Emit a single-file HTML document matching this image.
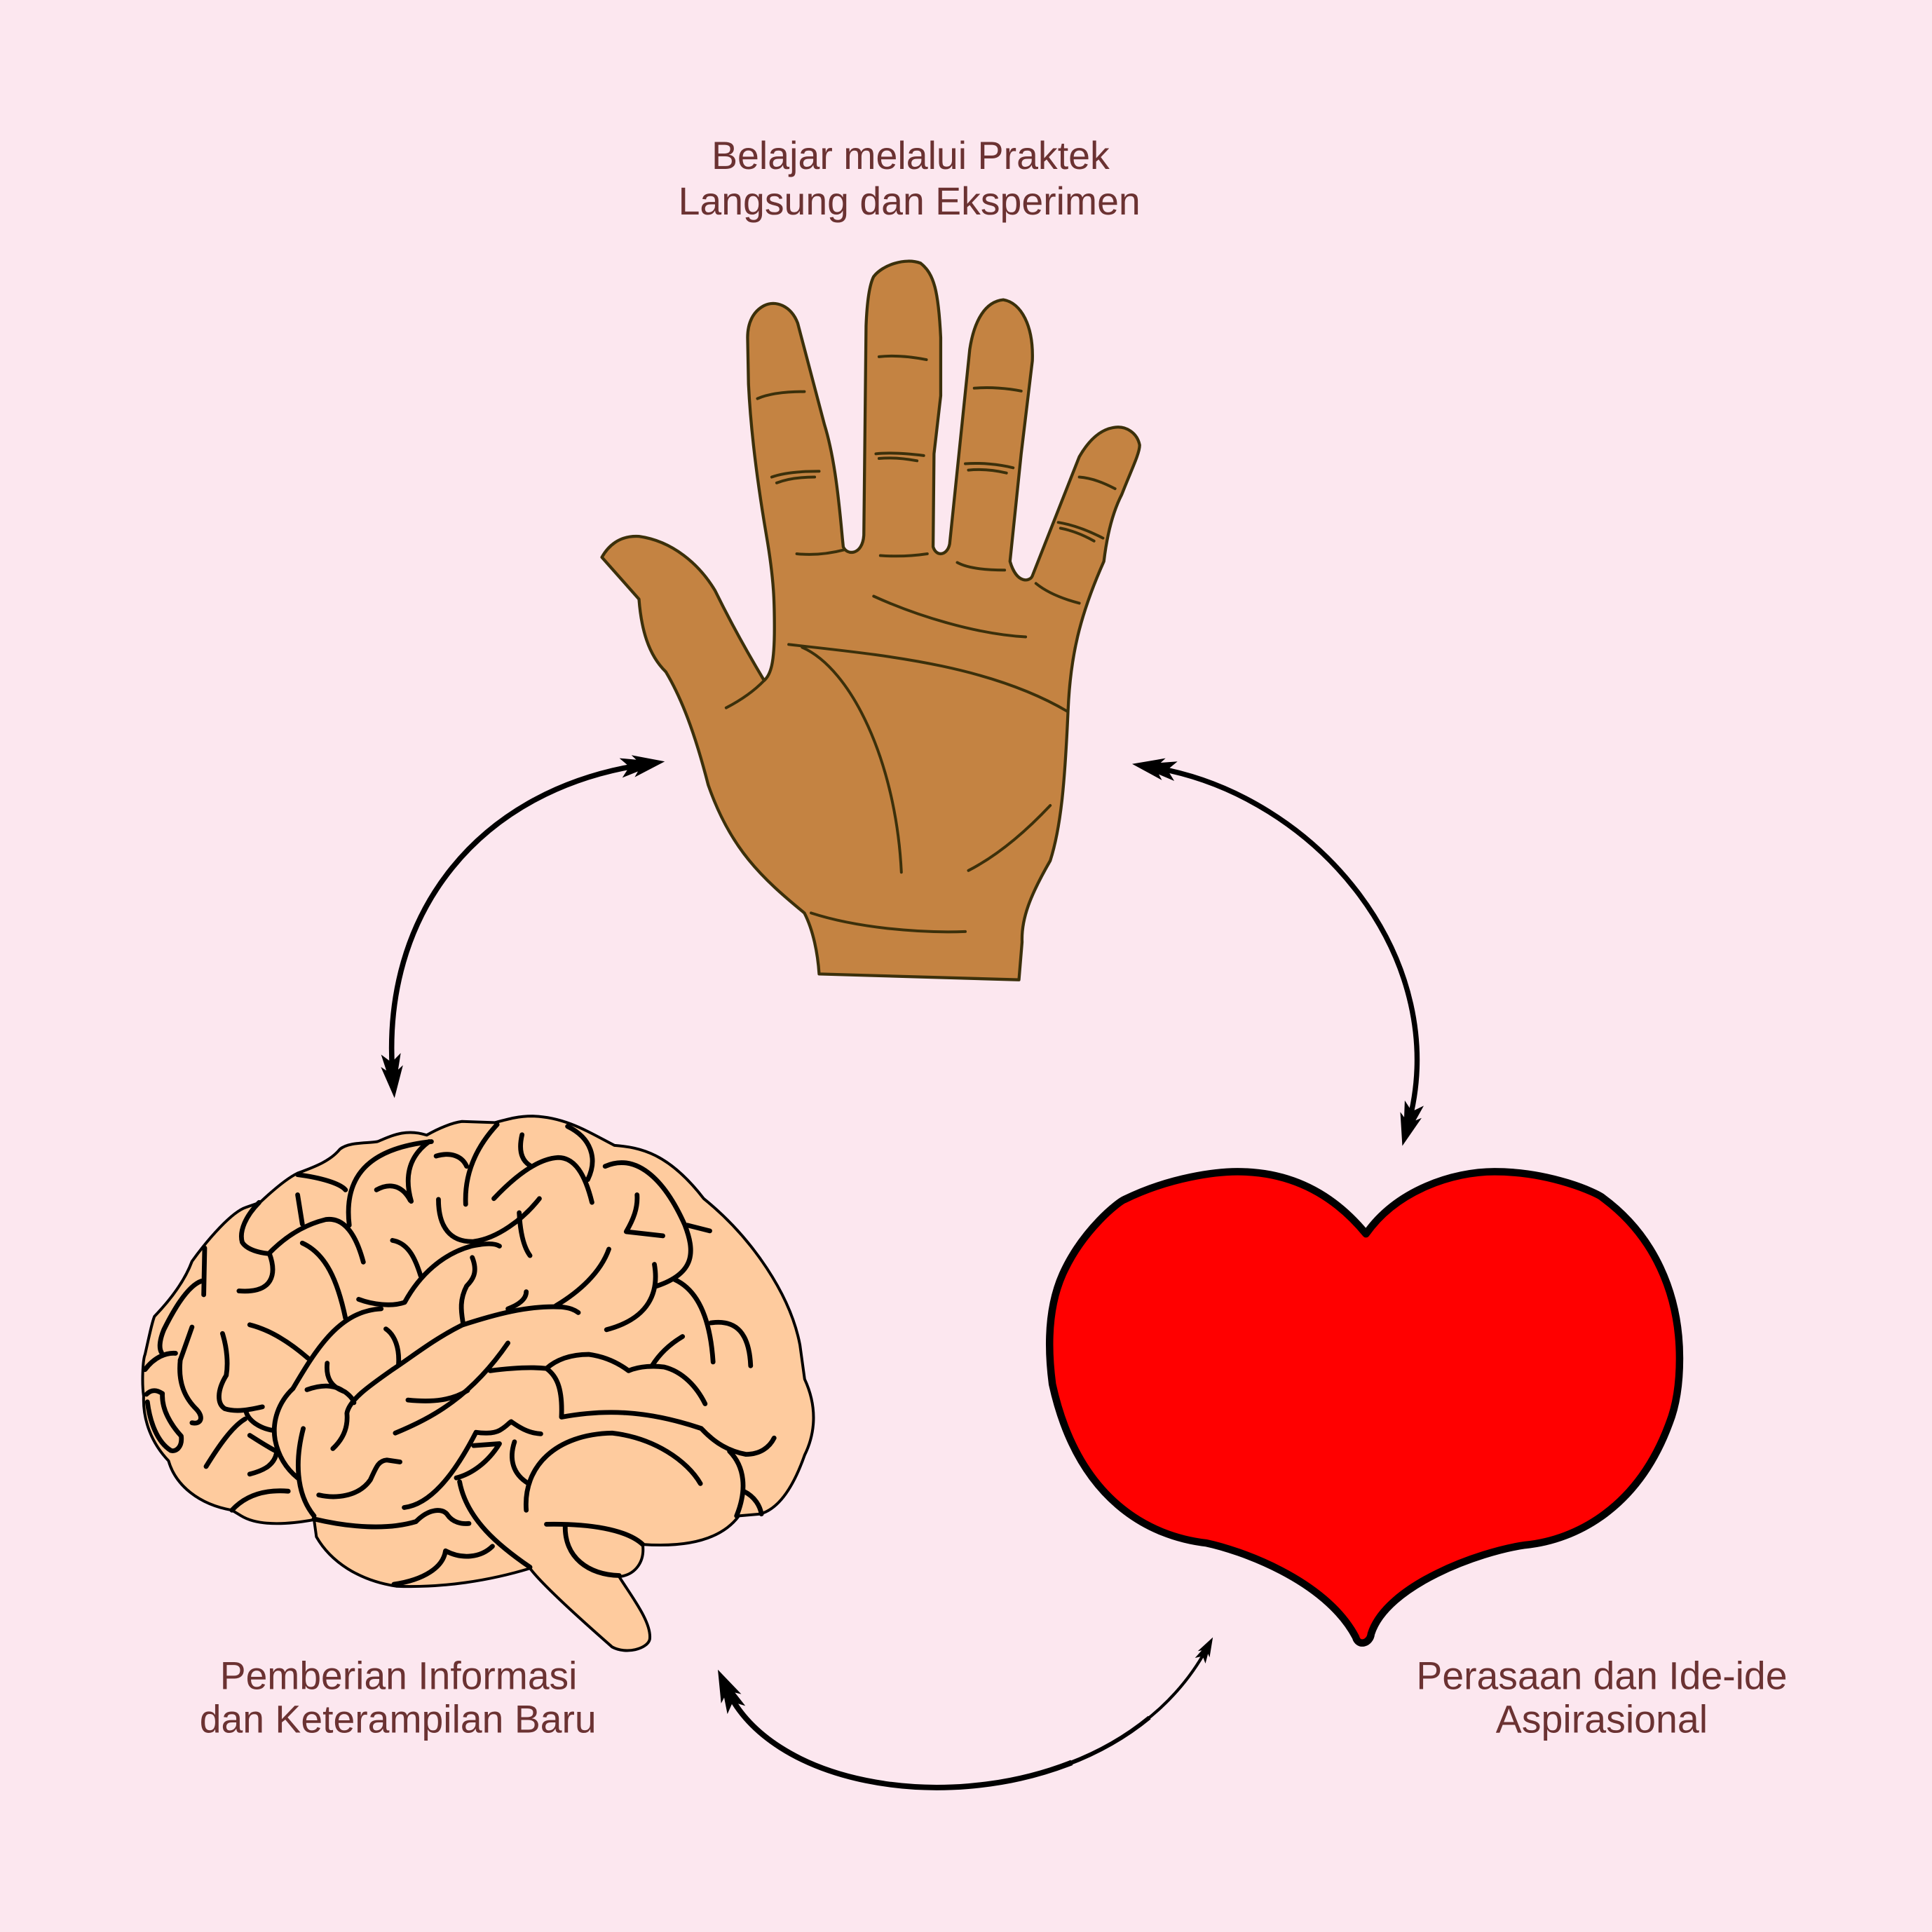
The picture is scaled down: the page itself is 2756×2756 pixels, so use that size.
<!DOCTYPE html>
<html>
<head>
<meta charset="utf-8">
<style>
html,body{margin:0;padding:0;background:#fce7ef;}
svg{display:block;}
text{font-family:"Liberation Sans",Arial,sans-serif;fill:#6b3232;font-size:31.5px;}
.ns{vector-effect:non-scaling-stroke;}
</style>
</head>
<body>
<svg width="2756" height="2756" viewBox="0 0 1568 1568" xmlns="http://www.w3.org/2000/svg">
<defs>
<marker id="ah" viewBox="-40 -12 42 24" refX="-17" refY="0" markerWidth="42" markerHeight="24" markerUnits="userSpaceOnUse" orient="auto-start-reverse">
<path d="M0,0 L-26,-9 L-19,0 L-26,9 Z M-9,-1.5 L-36,-8 L-29,0 L-36,8 L-9,1.5 Z" fill="#000"/>
</marker>
<marker id="ahs" viewBox="-40 -12 42 24" refX="-17" refY="0" markerWidth="25.2" markerHeight="14.4" markerUnits="userSpaceOnUse" orient="auto-start-reverse">
<path d="M0,0 L-26,-9 L-19,0 L-26,9 Z M-9,-1.5 L-36,-8 L-29,0 L-36,8 L-9,1.5 Z" fill="#000"/>
</marker>
</defs>

<rect x="0" y="0" width="1568" height="1568" fill="#fce7ef"/>

<!-- Labels -->
<text x="739" y="137" text-anchor="middle" textLength="323" lengthAdjust="spacingAndGlyphs">Belajar melalui Praktek</text>
<text x="738" y="174" text-anchor="middle" textLength="375" lengthAdjust="spacingAndGlyphs">Langsung dan Eksperimen</text>
<text x="323.5" y="1371" text-anchor="middle" textLength="290" lengthAdjust="spacingAndGlyphs">Pemberian Informasi</text>
<text x="323" y="1406" text-anchor="middle" textLength="322" lengthAdjust="spacingAndGlyphs">dan Keterampilan Baru</text>
<text x="1300" y="1371" text-anchor="middle" textLength="301" lengthAdjust="spacingAndGlyphs">Perasaan dan Ide-ide</text>
<text x="1300" y="1406" text-anchor="middle" textLength="172" lengthAdjust="spacingAndGlyphs">Aspirasional</text>

<!-- Hand -->
<g transform="translate(455.1,85.3) scale(0.3628,0.4717)" stroke="#3b300b" stroke-linecap="round" stroke-linejoin="round">
<path class="ns" stroke-width="4.3" fill="#c48342" d="M92,778 L175,850 C180,900 195,945 235,975 C270,1020 300,1080 330,1170 C380,1280 450,1330 545,1390 C565,1420 575,1460 578,1495 L1025,1505 L1032,1440 C1030,1400 1050,1360 1095,1300 C1120,1240 1128,1160 1135,1040 C1140,950 1160,880 1215,785 C1222,740 1235,700 1255,670 C1275,630 1295,600 1295,585 C1290,565 1265,550 1235,555 C1200,560 1175,585 1160,605 L1055,810 C1050,820 1020,825 1005,785 L1030,600 L1055,440 C1058,380 1030,340 990,335 C950,338 925,370 915,420 L870,755 C865,775 840,778 833,760 L835,600 L850,500 L850,400 C845,320 835,290 805,272 C770,262 720,275 700,295 C690,310 685,340 683,380 L678,740 C675,775 640,775 632,760 L630,745 C620,660 610,600 590,550 L530,375 C515,345 480,335 455,345 C430,355 418,375 418,400 L420,480 C425,560 440,650 460,740 C478,820 478,860 478,900 C478,960 470,980 455,990 C420,945 380,890 345,835 C310,790 250,750 175,742 C130,740 105,760 92,778 Z"/>
<g fill="none" stroke-width="4">
<path class="ns" d="M440,505 C470,495 510,493 545,493"/>
<path class="ns" d="M472,640 C500,632 540,630 578,630"/>
<path class="ns" d="M483,650 C510,642 540,640 568,640"/>
<path class="ns" d="M528,772 C565,775 600,772 635,765"/>
<path class="ns" d="M712,433 C745,430 785,433 818,438"/>
<path class="ns" d="M705,600 C740,597 780,600 812,603"/>
<path class="ns" d="M712,608 C740,606 770,608 797,612"/>
<path class="ns" d="M715,775 C750,777 785,776 820,772"/>
<path class="ns" d="M925,487 C960,485 1000,487 1030,492"/>
<path class="ns" d="M905,617 C940,615 980,618 1012,624"/>
<path class="ns" d="M912,628 C940,626 970,628 997,633"/>
<path class="ns" d="M887,787 C910,797 950,800 993,800"/>
<path class="ns" d="M1160,640 C1190,642 1215,650 1240,660"/>
<path class="ns" d="M1113,718 C1145,722 1180,732 1213,745"/>
<path class="ns" d="M1118,728 C1145,732 1170,740 1193,750"/>
<path class="ns" d="M1063,823 C1090,840 1125,850 1160,857"/>
<path class="ns" d="M700,845 C800,880 930,910 1040,915"/>
<path class="ns" d="M510,928 C700,945 950,960 1133,1043"/>
<path class="ns" d="M540,933 C650,970 750,1130 762,1320"/>
<path class="ns" d="M370,1037 C400,1025 430,1010 455,990"/>
<path class="ns" d="M1095,1205 C1040,1250 980,1290 912,1317"/>
<path class="ns" d="M560,1390 C660,1415 800,1425 905,1422"/>
</g>
</g>

<!-- Brain -->
<g transform="translate(85.34,881.8) scale(0.381,0.3084)" stroke="#000" stroke-linecap="round" stroke-linejoin="round">
<path class="ns" stroke-width="4" fill="#fecb9e" d="M85,705 C95,650 100,620 105,605 C140,560 170,510 185,460 C220,400 270,330 300,318 L330,305 C360,270 390,240 410,228 C450,210 480,195 500,165 C520,145 560,150 580,145 C610,130 640,110 685,128 C710,110 740,95 760,92 L830,95 C860,85 880,78 910,78 C980,80 1030,120 1085,155 C1140,160 1200,175 1275,295 C1380,400 1460,550 1480,680 L1490,770 C1520,850 1510,920 1490,970 C1470,1040 1440,1110 1395,1125 L1350,1130 C1320,1180 1260,1215 1145,1205 C1150,1250 1130,1285 1095,1290 C1120,1340 1165,1410 1160,1455 C1155,1480 1110,1495 1080,1475 C1020,1410 930,1310 905,1268 C820,1300 720,1320 620,1315 C540,1300 480,1250 450,1185 L445,1140 C400,1150 330,1160 290,1130 L270,1115 C200,1100 150,1050 135,985 C100,940 80,880 82,815 C78,780 80,720 85,705 Z"/>
<g fill="none" stroke-width="6.8">
<path class="ns" d="M410,232 C460,240 500,255 512,272"/>
<path class="ns" d="M520,365 C510,260 540,165 695,145"/>
<path class="ns" d="M690,145 C640,190 640,250 652,302"/>
<path class="ns" d="M578,272 C610,250 635,265 650,300"/>
<path class="ns" d="M705,183 C735,172 760,182 770,210"/>
<path class="ns" d="M835,100 C790,160 765,230 768,310"/>
<path class="ns" d="M888,127 C880,170 888,195 905,208"/>
<path class="ns" d="M828,295 C870,240 920,190 965,187 C1000,187 1022,230 1037,305"/>
<path class="ns" d="M985,105 C1035,135 1050,190 1028,245"/>
<path class="ns" d="M1065,210 C1130,175 1190,240 1235,365 C1255,430 1260,490 1175,525"/>
<path class="ns" d="M1240,365 L1288,380"/>
<path class="ns" d="M1133,285 C1135,320 1125,350 1110,382 L1188,393"/>
<path class="ns" d="M710,297 C710,370 735,410 785,408 C835,400 890,350 925,295"/>
<path class="ns" d="M882,332 C884,380 890,420 905,445"/>
<path class="ns" d="M1073,428 C1055,490 1010,540 960,577"/>
<path class="ns" d="M1170,468 C1180,540 1160,610 1068,640"/>
<path class="ns" d="M1213,508 C1270,540 1290,630 1295,725"/>
<path class="ns" d="M1290,622 C1345,612 1372,650 1375,735"/>
<path class="ns" d="M1230,658 C1200,680 1180,705 1165,735"/>
<path class="ns" d="M410,285 L420,362"/>
<path class="ns" d="M328,305 C300,340 285,380 292,410 C302,430 330,438 350,440"/>
<path class="ns" d="M350,438 C380,400 420,365 470,350 C500,345 530,370 550,462"/>
<path class="ns" d="M350,440 C365,490 360,545 285,538"/>
<path class="ns" d="M212,425 L210,548"/>
<path class="ns" d="M205,512 C175,525 145,590 125,640 C115,670 115,690 120,700"/>
<path class="ns" d="M420,412 C470,440 495,510 512,610"/>
<path class="ns" d="M612,405 C645,412 660,450 672,498"/>
<path class="ns" d="M540,560 C570,574 610,580 638,568 C670,495 720,440 780,420 C810,412 830,412 840,420"/>
<path class="ns" d="M782,450 C795,490 782,510 770,525 C755,560 758,590 762,620"/>
<path class="ns" d="M897,540 C897,560 880,575 858,585"/>
<path class="ns" d="M400,795 C450,690 500,590 588,585"/>
<path class="ns" d="M760,628 C830,600 900,576 970,580 C990,582 1000,588 1008,595"/>
<path class="ns" d="M760,628 C700,665 655,710 612,745 C560,790 520,825 515,860 C518,900 505,930 485,953"/>
<path class="ns" d="M308,627 C350,640 390,670 432,715"/>
<path class="ns" d="M185,633 L160,720"/>
<path class="ns" d="M250,650 C260,690 262,730 258,760"/>
<path class="ns" d="M598,638 C618,655 627,690 625,730"/>
<path class="ns" d="M473,728 C470,765 480,790 510,803 C520,812 528,822 530,832"/>
<path class="ns" d="M430,798 C470,780 495,790 508,802"/>
<path class="ns" d="M258,760 C238,800 238,835 255,848 C280,858 310,850 335,843"/>
<path class="ns" d="M160,720 C155,780 170,820 195,850 C210,870 205,890 185,885"/>
<path class="ns" d="M85,745 C105,712 130,700 150,702"/>
<path class="ns" d="M88,810 C100,795 112,800 122,808 C120,850 140,890 162,920 C165,950 150,962 140,958 C110,935 95,880 90,830"/>
<path class="ns" d="M300,855 C305,880 330,900 358,905"/>
<path class="ns" d="M298,875 C270,895 240,950 215,1000"/>
<path class="ns" d="M308,918 C330,935 348,950 368,962"/>
<path class="ns" d="M365,965 C360,995 340,1010 308,1020"/>
<path class="ns" d="M400,795 C370,830 355,880 362,930 C370,980 390,1010 410,1030"/>
<path class="ns" d="M422,900 C405,980 405,1070 445,1130"/>
<path class="ns" d="M455,1075 C490,1085 540,1080 565,1035 C578,1000 582,985 600,983 L628,988"/>
<path class="ns" d="M618,912 C700,870 780,815 858,675"/>
<path class="ns" d="M645,825 C700,832 740,825 772,800"/>
<path class="ns" d="M637,1108 C690,1100 740,1030 790,910 C800,912 825,915 840,905 C855,895 860,885 865,882 C880,895 900,912 928,914"/>
<path class="ns" d="M820,748 C870,740 910,738 940,742 C960,760 975,790 972,870 C1060,850 1150,850 1270,900 C1300,940 1330,960 1365,968 C1395,968 1415,950 1425,925"/>
<path class="ns" d="M940,742 C960,720 990,705 1030,705 C1060,710 1090,725 1115,748 C1140,735 1170,735 1190,738 C1230,750 1260,790 1278,835"/>
<path class="ns" d="M785,945 L840,940 C815,990 780,1020 748,1030"/>
<path class="ns" d="M872,935 C860,980 868,1020 902,1045"/>
<path class="ns" d="M897,1115 C890,1000 960,915 1080,912 C1170,925 1240,985 1268,1045"/>
<path class="ns" d="M905,1265 C840,1210 770,1140 755,1040"/>
<path class="ns" d="M1330,960 C1362,1000 1368,1060 1345,1130"/>
<path class="ns" d="M1360,1065 C1385,1080 1395,1105 1398,1125"/>
<path class="ns" d="M940,1152 C1030,1150 1110,1165 1145,1205"/>
<path class="ns" d="M980,1155 C978,1240 1030,1285 1095,1287"/>
<path class="ns" d="M270,1115 C300,1075 340,1060 390,1065"/>
<path class="ns" d="M445,1138 C520,1160 600,1168 662,1145 C690,1110 718,1110 728,1125 C740,1148 760,1152 775,1150"/>
<path class="ns" d="M615,1310 C680,1298 720,1265 725,1222 C760,1245 800,1240 825,1210"/>
</g>
</g>

<!-- Heart -->
<g transform="translate(824.9,597.4) scale(0.41724,0.52607)">
<path class="ns" fill="#ff0000" stroke="#000" stroke-width="10.5" stroke-linejoin="round" d="M680,768 C740,700 850,672 930,672 C1040,672 1130,705 1140,712 C1240,770 1290,860 1290,960 C1290,1010 1280,1040 1270,1060 C1210,1190 1090,1240 990,1248 C900,1258 720,1310 690,1385 C688,1400 665,1405 660,1390 C600,1300 430,1255 370,1245 C260,1235 120,1180 70,1000 C60,940 62,880 90,830 C130,760 200,718 210,715 C300,680 390,672 430,672 C540,672 620,710 680,768 Z"/>
</g>

<!-- Arrows -->
<g fill="none" stroke="#000" stroke-linecap="butt">
<path d="M318.8,874.2 C308,740 390,640 522.7,620.5" stroke-width="4.3" marker-start="url(#ah)" marker-end="url(#ah)"/>
<path d="M935.6,622.8 C1070,645 1180,780 1142.7,913.6" stroke-width="4.2" marker-start="url(#ah)" marker-end="url(#ah)"/>
<path d="M589.7,1370.5 C640,1480 900,1485 979.5,1337.8" stroke-width="2.4" marker-start="url(#ah)" marker-end="url(#ahs)"/>
<path d="M589.7,1370.5 C632.46,1463.58 826.72,1481.15 932.86,1393.94" stroke-width="3.4"/>
<path d="M589.7,1370.5 C624.9,1447.2 762.9,1472.6 869.8,1430.5" stroke-width="4.5"/>
</g>
</svg>
</body>
</html>
